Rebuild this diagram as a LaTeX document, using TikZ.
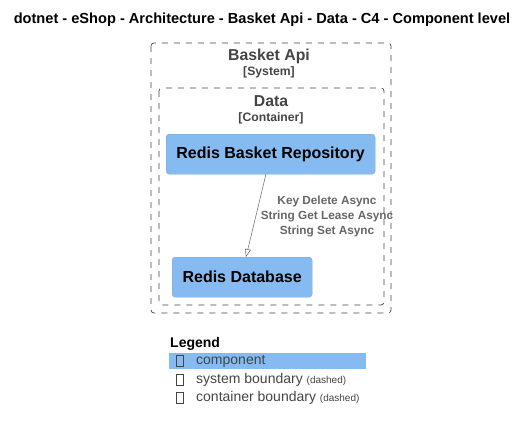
\documentclass[tikz,border=0pt]{standalone}
\usepackage{fontspec}
\setmainfont{Liberation Sans}
\usepackage{xcolor}
\usetikzlibrary{arrows.meta, positioning}
\definecolor{compblue}{HTML}{85BBF0}
\definecolor{bordergray}{HTML}{444444}
\definecolor{relgray}{HTML}{666666}

\tikzset{
    boundary/.style={draw=bordergray, dash pattern=on 6pt off 6pt, rounded corners=3pt, line width=0.7pt},
    component/.style={fill=compblue, draw=compblue!90!black, line width=0.3pt, rounded corners=3pt, anchor=north west, inner sep=0pt, font=\fontsize{16}{18}\selectfont\bfseries},
    bndtitle/.style={text=bordergray, font=\fontsize{15.8}{18}\selectfont\bfseries},
    bndtype/.style={text=bordergray, font=\fontsize{12.2}{14}\selectfont\bfseries},
    rel/.style={draw=relgray, line width=0.5pt, -{Triangle[open, length=8pt, width=6pt]}},
    rellabel/.style={text=relgray, align=center, font=\fontsize{11.8}{15}\selectfont\bfseries},
    legendtext/.style={anchor=west, text=bordergray, inner sep=0pt, font=\fontsize{14}{16}\selectfont},
    glyph/.style={draw=bordergray, line width=0.4pt, minimum width=7pt, minimum height=11pt, inner sep=0pt}
}

\begin{document}
\begin{tikzpicture}[x=1pt, y=-1pt]
    \useasboundingbox (0,0) rectangle (526,431);
    \node[font=\fontsize{14.6}{16}\selectfont\bfseries] (title) at (262,20) {dotnet - eShop - Architecture - Basket Api - Data - C4 - Component level};
    % boundaries
    \draw[boundary] (151,43) rectangle (391,313);
    \node[bndtitle] (sysname) at (269,56) {Basket Api};
    \node[bndtype] (systype) at (269,72) {[System]};
    \draw[boundary] (159,88) rectangle (384,305);
    \node[bndtitle] (contname) at (271,101) {Data};
    \node[bndtype] (conttype) at (271,118) {[Container]};
    % components
    \node[component, minimum width=209pt, minimum height=40pt] (repo) at (166,134) {Redis Basket Repository};
    \node[component, minimum width=140pt, minimum height=40pt] (redis) at (172,257) {Redis Database};
    \coordinate (relstart) at (266,174);
    \coordinate (relend) at (246,257);
    \draw[rel] (relstart) -- (relend);
    \node[rellabel] (calls) at (327,216) {Key Delete Async\\String Get Lease Async\\String Set Async};
    % legend
    \node[anchor=west, inner sep=0pt, font=\fontsize{14}{16}\selectfont\bfseries] (legend) at (170,344) {Legend};
    \fill[compblue] (169,353) rectangle (366,369);
    \foreach \y/\n in {361/a, 380/b, 398/c} {
        \node[glyph] (glyph\n) at (180,\y) {};
    }
    \node[legendtext] (lcomp) at (196,361) {component};
    \node[legendtext] (lsys) at (196,380) {system boundary \fontsize{10}{12}\selectfont(dashed)};
    \node[legendtext] (lcont) at (196,398) {container boundary \fontsize{10}{12}\selectfont(dashed)};
\end{tikzpicture}
\end{document}
